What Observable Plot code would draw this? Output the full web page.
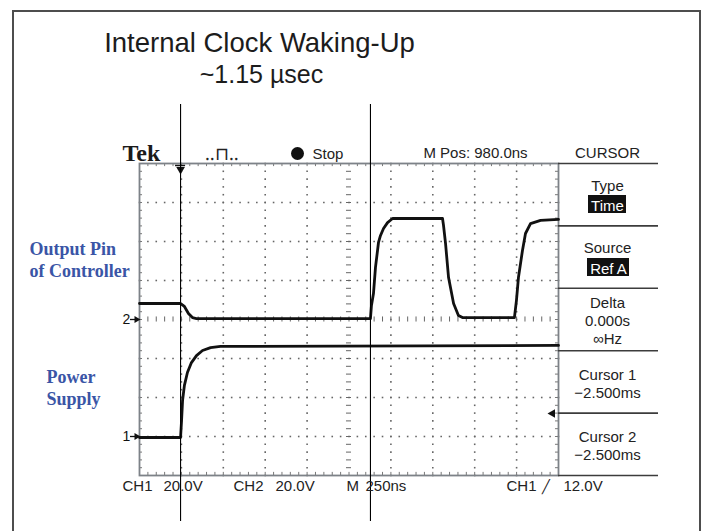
<!DOCTYPE html>
<html><head><meta charset="utf-8">
<script src="https://cdn.jsdelivr.net/npm/d3@7"></script>
<script src="https://cdn.jsdelivr.net/npm/@observablehq/plot@0.6"></script>
<style>
html,body{margin:0;padding:0;background:#fff;}
#wrap{position:relative;width:702px;height:531px;overflow:hidden;background:#fff;}
#frame{position:absolute;left:12px;top:10px;width:685px;height:560px;border:2px solid #4d4d4d;}
#chart{position:absolute;left:0;top:0;}
</style></head><body>
<div id="wrap"><div id="chart"></div><div id="frame"></div></div>
<script>
// ---------- data ----------
const titleLines = ["Internal Clock Waking-Up", "~1.15 \u00b5sec"];
const timePerDivNs = 250;              // M 250ns
const voltsPerDiv = {CH1: 20, CH2: 20}; // 20.0V each
const groundDiv = {CH1: -3, CH2: 0};   // channel ground markers "1" and "2"

// CH1 : Power Supply (time ns, volts)
const ch1Time  = [0, 245, 251, 257, 268, 286, 310, 340, 376, 424, 483, 2500];
const ch1Volts = [-0.5, -0.5, 8.2, 18.5, 26.2, 32.8, 37.9, 41.5, 44.1, 45.6, 46.2, 46.7];

// CH2 : Output Pin of Controller (time ns, volts)
const ch2Time  = [0, 245, 268, 292, 316, 340, 1378, 1384, 1396, 1408, 1426, 1438, 1456, 1480, 1510,
                  1808, 1814, 1826, 1844, 1874, 1903, 1927, 2237, 2249, 2261, 2285, 2303, 2333, 2393, 2500];
const ch2Volts = [8.2, 8.2, 6.7, 3.1, 1.0, 0.5, 0.5, 7.2, 13.3, 26.7, 39.5, 43.1, 46.7, 49.7, 51.8,
                  51.8, 48.2, 39.0, 21.5, 8.2, 2.1, 1.0, 1.0, 9.7, 21.5, 35.4, 44.1, 49.2, 50.8, 51.3];

const cursorTimes = [245, 1378];

const headerTexts = ["Tek", "Stop", "M Pos: 980.0ns", "CURSOR"];
const menuTitles = ["Type", "Source", "Delta", "Cursor 1", "Cursor 2"];
const menuValues = ["Time", "Ref A", "0.000s", "\u221eHz", "\u22122.500ms", "\u22122.500ms"];
const footerTexts = ["CH1", "20.0V", "CH2", "20.0V", "M", "250ns", "CH1", "\u2571", "12.0V"];
const sideLabels = ["Output Pin", "of Controller", "Power", "Supply"];

// ---------- build ----------
const scopeFont = "'Liberation Sans', Arial, sans-serif";
const X = px => (px - 139) * timePerDivNs / 41.9;  // page pixel -> time (annotation placement)
const Y = py => (319 - py) / 39;                  // page pixel -> divisions

const trace = (ch, ts, vs) => ts.map((t, i) => ({ch, t, d: vs[i] / voltsPerDiv[ch] + groundDiv[ch]}));
const traces = [...trace("CH1", ch1Time, ch1Volts), ...trace("CH2", ch2Time, ch2Volts)];

const majorX = d3.range(0, 2501, timePerDivNs);
const minorX = d3.range(0, 2501, timePerDivNs / 5);
const majorY = d3.range(-4, 4.001, 1);
const minorY = d3.range(-20, 21).map(k => k / 5);

const gridDots = [];
for (const t of majorX) if (t > 0 && t < 2500 && t !== 1250) for (const d of minorY) gridDots.push({t, d});
for (const d of majorY) if (d > -4 && d < 4 && d !== 0) for (const t of minorX) gridDots.push({t, d});

function label(text, xpx, basepx, o = {}) {
  return Plot.text([text], {
    x: () => X(xpx), y: () => Y(basepx), text: d => d,
    lineAnchor: "bottom", textAnchor: o.anchor || "middle",
    fontSize: o.size || 15, fontFamily: o.family || scopeFont,
    fontWeight: o.weight || "normal", fill: o.fill || "#222"
  });
}
function box(x1, x2, y1, y2) {
  return Plot.rect([0], {x1: () => X(x1), x2: () => X(x2), y1: () => Y(y1), y2: () => Y(y2), fill: "#111"});
}
const blue = "#3a55a6";
const serif = "'Liberation Serif', 'Times New Roman', serif";

const chart = Plot.plot({
  width: 702, height: 531,
  marginLeft: 139, marginRight: 144, marginTop: 163, marginBottom: 56,
  x: {domain: [0, 2500], axis: null},
  y: {domain: [-4, 4], axis: null},
  style: {background: "transparent", overflow: "visible"},
  marks: [
    // graticule dots
    Plot.dot(gridDots, {x: "t", y: "d", r: 0.9, symbol: "square", fill: "#666", stroke: null}),
    // centre cross ticks
    Plot.ruleX(minorX, {x: d => d, y1: -0.065, y2: 0.065, stroke: "#666", strokeWidth: 1}),
    Plot.ruleY(minorY, {y: d => d, x1: 1250 - 15, x2: 1250 + 15, stroke: "#666", strokeWidth: 1}),
    // border ticks
    Plot.ruleX(minorX, {x: d => d, y1: 4, y2: 3.92, stroke: "#777"}),
    Plot.ruleX(minorX, {x: d => d, y1: -4, y2: -3.92, stroke: "#777"}),
    Plot.ruleY(minorY, {y: d => d, x1: 0, x2: 18, stroke: "#777"}),
    Plot.ruleY(minorY, {y: d => d, x1: 2482, x2: 2500, stroke: "#777"}),
    Plot.frame({stroke: "#7d8288", strokeWidth: 1.8}),
    // menu separators
    Plot.ruleY([4, 2.4, 0.8, -0.8, -2.4, -4], {y: d => d, x1: 2500, x2: () => X(658), stroke: "#3c3c3c", strokeWidth: 1.6}),
    // traces
    Plot.line(traces, {x: "t", y: "d", z: "ch", stroke: "#111", strokeWidth: 2.8, strokeLinejoin: "round"}),
    // channel ground markers
    Plot.text(["1", "2"], {x: () => X(126), y: d => groundDiv["CH" + d], text: d => d, fontSize: 14, fontFamily: scopeFont, fill: "#111", textAnchor: "middle"}),
    Plot.ruleY(["1", "2"], {y: d => groundDiv["CH" + d], x1: () => X(130), x2: () => X(137), stroke: "#111", strokeWidth: 1.3}),
    Plot.dot(["1", "2"], {x: () => X(136), y: d => groundDiv["CH" + d], symbol: "triangle", rotate: 90, r: 2.6, fill: "#111", stroke: null}),
    // trigger position and level markers
    Plot.dot([cursorTimes[0]], {x: d => d, y: () => Y(169), symbol: "triangle", rotate: 180, r: 3.2, fill: "#111", stroke: null}),
    Plot.ruleY([0], {y: () => Y(165), x1: d => cursorTimes[0] - 30, x2: d => cursorTimes[0] + 30, stroke: "#111", strokeWidth: 1.5}),
    Plot.dot([0], {x: () => X(552), y: () => Y(413), symbol: "triangle", rotate: -90, r: 3.2, fill: "#111", stroke: null}),
    // cursors
    Plot.ruleX(cursorTimes, {x: d => d, y1: () => Y(104), y2: () => Y(521), stroke: "#000", strokeWidth: 1.1}),
    // title
    label(titleLines[0], 259, 51, {size: 27.5, fill: "#1c1c1c"}),
    label(titleLines[1], 261, 82, {size: 25, fill: "#1c1c1c"}),
    // header
    label(headerTexts[0], 122, 160, {anchor: "start", size: 24, weight: "bold", family: serif, fill: "#1a1a1a"}),
    label("\u2025\u2293\u2025", 221, 159, {size: 18}),
    Plot.dot([0], {x: () => X(297), y: () => Y(153), r: 6.5, fill: "#111", stroke: null}),
    label(headerTexts[1], 312, 158, {anchor: "start"}),
    label(headerTexts[2], 475, 157),
    label(headerTexts[3], 607, 157),
    // side menu
    label(menuTitles[0], 607, 190),
    box(588, 626, 195, 213),
    label(menuValues[0], 607, 210, {fill: "#fff"}),
    label(menuTitles[1], 607, 252),
    box(587, 629, 258, 276),
    label(menuValues[1], 608, 273, {fill: "#fff"}),
    label(menuTitles[2], 607, 307),
    label(menuValues[2], 607, 325),
    label(menuValues[3], 607, 343),
    label(menuTitles[3], 607, 379),
    label(menuValues[4], 607, 397),
    label(menuTitles[4], 607, 441),
    label(menuValues[5], 607, 459),
    // footer
    label(footerTexts[0], 122, 490, {anchor: "start", size: 15}),
    label(footerTexts[1], 163, 490, {anchor: "start", size: 15}),
    label(footerTexts[2], 233, 490, {anchor: "start", size: 15}),
    label(footerTexts[3], 275, 490, {anchor: "start", size: 15}),
    label(footerTexts[4], 346, 490, {anchor: "start", size: 15}),
    label(footerTexts[5], 365, 490, {anchor: "start", size: 15}),
    label(footerTexts[6], 506, 490, {anchor: "start", size: 15}),
    label(footerTexts[7], 545, 490, {size: 13}),
    label(footerTexts[8], 563, 490, {anchor: "start", size: 15}),
    // side labels
    label(sideLabels[0], 29, 254, {anchor: "start", size: 18, weight: "bold", family: serif, fill: blue}),
    label(sideLabels[1], 29, 276, {anchor: "start", size: 18, weight: "bold", family: serif, fill: blue}),
    label(sideLabels[2], 46, 382, {anchor: "start", size: 18, weight: "bold", family: serif, fill: blue}),
    label(sideLabels[3], 46, 404, {anchor: "start", size: 18, weight: "bold", family: serif, fill: blue})
  ]
});
document.getElementById("chart").appendChild(chart);
</script>
</body></html>
